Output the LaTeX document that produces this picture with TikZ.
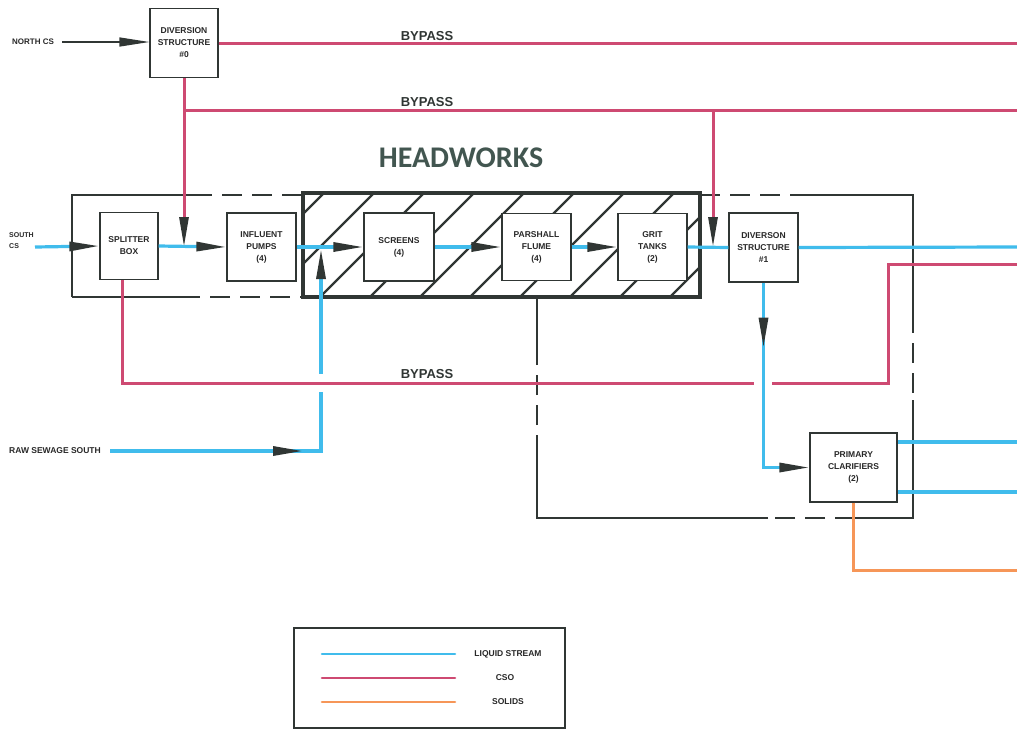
\documentclass[tikz,border=0pt]{standalone}
\usepackage{fontspec}
\setmainfont{Liberation Sans}
\newfontfamily\hwfont{Carlito}
\usetikzlibrary{arrows.meta,decorations.markings}
\definecolor{liq}{RGB}{64,188,236}
\definecolor{cso}{RGB}{206,74,114}
\definecolor{sol}{RGB}{246,150,88}
\definecolor{ink}{RGB}{48,54,52}
\definecolor{hwc}{RGB}{66,86,80}
\definecolor{txt}{RGB}{40,40,40}
\pgfdeclarelayer{bg}
\pgfsetlayers{bg,main}
\tikzset{
  >={Triangle[length=30pt,width=9pt,color=ink]},
  liqline/.style={draw=liq, line width=3.2pt},
  csoline/.style={draw=cso, line width=3pt},
  solline/.style={draw=sol, line width=3pt},
  blkline/.style={draw=ink, line width=1.3pt},
  dashseg/.style={blkline, dash pattern=on 20pt off 10pt},
  unitbox/.style={draw=ink, line width=1.3pt, fill=white, inner sep=0pt, align=center, text=txt, font=\bfseries\fontsize{8.5}{12}\selectfont},
  lbl/.style={inner sep=0pt, text=txt, font=\bfseries\fontsize{8}{10}\selectfont},
  bylbl/.style={inner sep=0pt, text=ink, font=\bfseries\fontsize{13}{14}\selectfont},
  midarrow/.style={postaction={decorate, decoration={markings, mark=at position #1 with {\arrow{>}}}}},
}
\begin{document}
\begin{tikzpicture}[x=1pt,y=-1pt]
\useasboundingbox (0,0) rectangle (1017,732);

% ---------- unit boxes ----------
\node[unitbox, minimum width=68pt, minimum height=69pt] (d0) at (184,43) {DIVERSION\\STRUCTURE\\\#0};
\node[unitbox, minimum width=58pt, minimum height=67pt] (spl) at (129,246) {SPLITTER\\BOX};
\node[unitbox, minimum width=69pt, minimum height=68pt] (inf) at (261.5,247) {INFLUENT\\PUMPS\\(4)};
\node[unitbox, minimum width=70pt, minimum height=68pt] (scr) at (399,247) {SCREENS\\(4)};
\node[unitbox, minimum width=69pt, minimum height=67pt] (par) at (536.5,247) {PARSHALL\\FLUME\\(4)};
\node[unitbox, minimum width=69pt, minimum height=67pt] (grit) at (652.5,247) {GRIT\\TANKS\\(2)};
\node[unitbox, minimum width=69pt, minimum height=69pt] (dv1) at (763.5,247.5) {DIVERSON\\STRUCTURE\\\#1};
\node[unitbox, minimum width=87pt, minimum height=69pt] (pc) at (853.5,467.5) {PRIMARY\\CLARIFIERS\\(2)};

% ---------- headworks frame, hatch, process boundary ----------
\begin{pgfonlayer}{bg}
  \fill[white] (0,0) rectangle (1017,732);
  \begin{scope}
    \clip (303,193) rectangle (700,297);
    \foreach \x in {170,220,...,720} \draw[ink, line width=2.4pt] (\x,297) -- (\x+104,193);
  \end{scope}
  \node[draw=ink, line width=4pt, minimum width=397pt, minimum height=104pt, inner sep=0pt] (hw) at (501.5,245) {};
  \draw[blkline] (72,297) -- (72,195) -- (192,195);
  \draw[dashseg] (192,195) -- (303,195);
  \draw[dashseg] (700,195) -- (795,195);
  \draw[blkline] (795,195) -- (913,195) -- (913,313);
  \draw[dashseg] (913,313) -- (913,400);
  \draw[blkline] (913,400) -- (913,518) -- (855,518);
  \draw[dashseg] (855,518) -- (768,518);
  \draw[blkline] (768,518) -- (537,518) -- (537,455);
  \draw[dashseg] (537,455) -- (537,360);
  \draw[blkline] (537,360) -- (537,297);
  \draw[blkline] (72,297) -- (180,297);
  \draw[dashseg] (180,297) -- (303,297);
\end{pgfonlayer}

\node[font=\hwfont\bfseries\fontsize{30}{30}\selectfont, text=hwc, inner sep=0pt] (hwt) at (461,158) {HEADWORKS};

% ---------- labels ----------
\node[lbl, anchor=west] (ncs) at (12,42) {NORTH CS};
\node[lbl, anchor=west, align=left, font=\bfseries\fontsize{7}{11}\selectfont] (scs) at (9,241) {SOUTH\\CS};
\node[lbl, anchor=west, font=\bfseries\fontsize{8.5}{10}\selectfont] (raw) at (9,451) {RAW SEWAGE SOUTH};
\node[bylbl] (by1) at (427,36) {BYPASS};
\node[bylbl] (by2) at (427,102) {BYPASS};
\node[bylbl] (by3) at (427,374) {BYPASS};

% ---------- coordinates ----------
\coordinate (e1) at (1017,43);
\coordinate (j0) at (184,247);
\coordinate (b2s) at (184,110);
\coordinate (b2e) at (1017,110);
\coordinate (b2d) at (713,110);
\coordinate (j2) at (713,247);
\coordinate (s0) at (35,247);
\coordinate (e2) at (1017,247);
\coordinate (rsc) at (321,451);
\coordinate (rsj) at (321,249);
\coordinate (p1) at (122,383);
\coordinate (p2) at (888,383);
\coordinate (p3) at (888,264);
\coordinate (e3) at (1017,264);
\coordinate (pco1) at (1017,442);
\coordinate (pco2) at (1017,492);
\coordinate (oc) at (853.5,570);
\coordinate (e4) at (1017,570);

% ---------- north cs inflow ----------
\draw[blkline, ->] ([xshift=8pt]ncs.east) -- (ncs.east -| d0.west);

% ---------- CSO / bypass ----------
\draw[csoline] (d0.east) -- (e1);
\draw[csoline, ->] (d0.south) -- (j0);
\draw[csoline] (b2s) -- (b2e);
\draw[csoline, ->] (b2d) -- (j2);

% ---------- liquid stream, main row ----------
\draw[liqline, ->] (s0) -- (spl.west);
\draw[liqline, ->] (spl.east) -- (inf.west);
\draw[liqline, ->] (inf.east) -- (scr.west);
\draw[liqline, ->] (scr.east) -- (par.west);
\draw[liqline, ->] (par.east) -- (grit.west);
\draw[liqline] (grit.east) -- (dv1.west);
\draw[liqline] (dv1.east) -- (e2);

% raw sewage south
\draw[liqline, ->, midarrow=193pt] ([xshift=9pt]raw.east) -- (rsc) -- (rsj);
\fill[white] (314,374) rectangle (328,392);

% lower bypass
\draw[csoline] (spl.south -| p1) -- (p1) -- (p2) -- (p3) -- (e3);
\fill[white] (754,377) rectangle (772,389);

% to primary clarifiers
\draw[liqline, ->, midarrow=65pt] (dv1.south) -- (dv1.south |- pc.west) -- (pc.west);
\draw[liqline] (pco1 -| pc.east) -- (pco1);
\draw[liqline] (pco2 -| pc.east) -- (pco2);
\draw[solline] (pc.south) -- (oc) -- (e4);

% ---------- legend ----------
\node[draw=ink, line width=1.2pt, minimum width=271pt, minimum height=100pt, inner sep=0pt] (leg) at (429.5,678) {};
\node[lbl, font=\bfseries\fontsize{8.5}{10}\selectfont] (l1) at (508,654) {LIQUID STREAM};
\node[lbl, font=\bfseries\fontsize{8.5}{10}\selectfont] (l2) at (505,678) {CSO};
\node[lbl, font=\bfseries\fontsize{8.5}{10}\selectfont] (l3) at (508,702) {SOLIDS};
\coordinate (ls1) at (322,654); \coordinate (le1) at (455,654);
\coordinate (ls2) at (322,678); \coordinate (le2) at (455,678);
\coordinate (ls3) at (322,702); \coordinate (le3) at (455,702);
\draw[liqline, line width=2.6pt, line cap=round] (ls1) -- (le1);
\draw[csoline, line width=2.6pt, line cap=round] (ls2) -- (le2);
\draw[solline, line width=2.6pt, line cap=round] (ls3) -- (le3);
\end{tikzpicture}
\end{document}
